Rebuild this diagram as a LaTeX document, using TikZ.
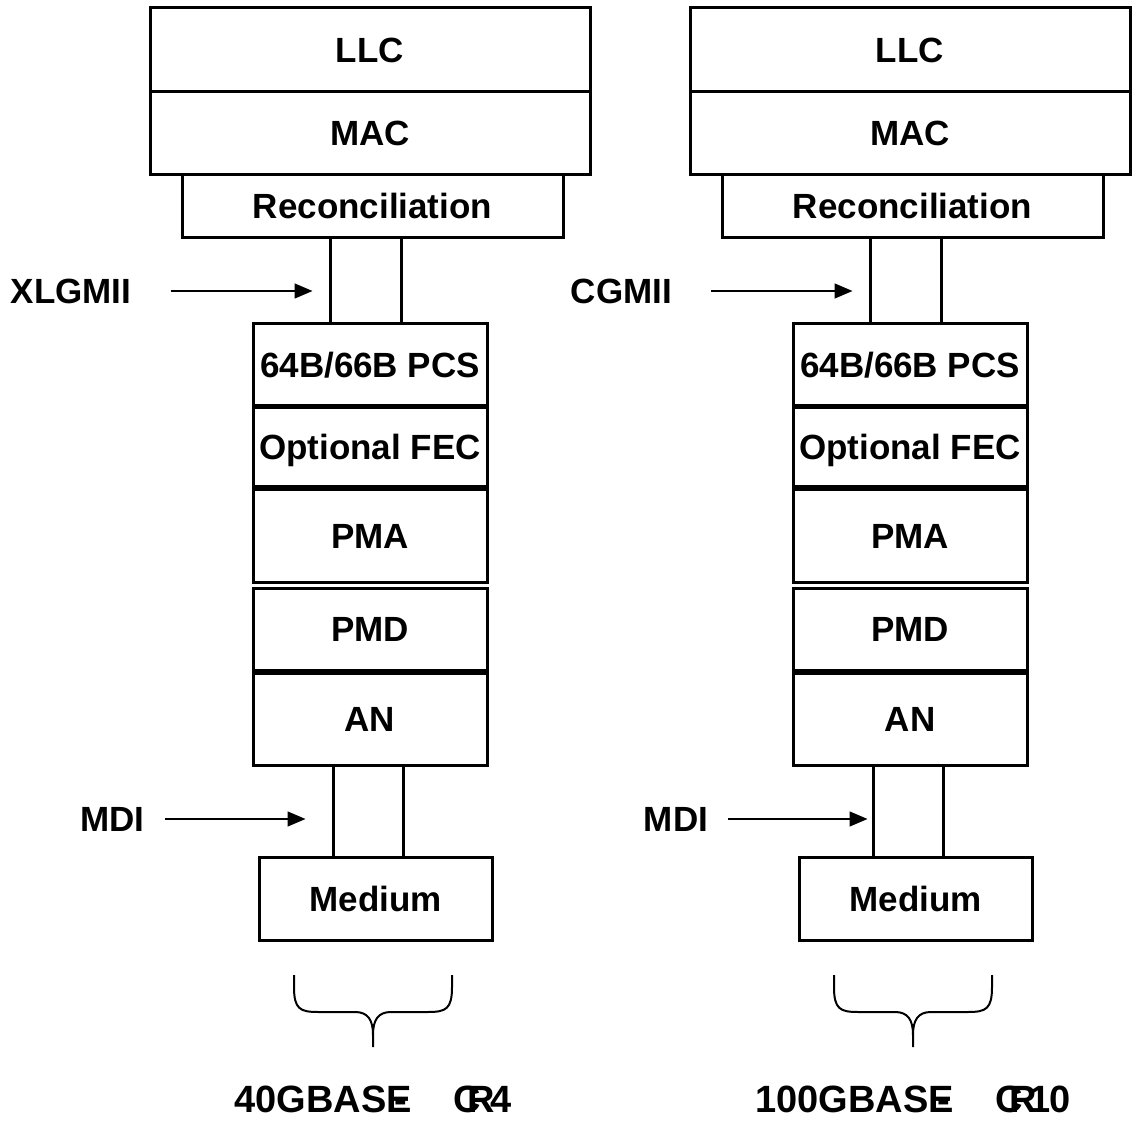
\documentclass[tikz,border=0pt]{standalone}
\usepackage{fontspec}
\setmainfont{Liberation Sans}
\usetikzlibrary{arrows.meta}

\begin{document}
\begin{tikzpicture}[x=0.5pt,y=-0.5pt,
    layer/.style 2 args={draw,line width=1.5pt,inner sep=0pt,
      minimum width=#1*0.5pt,minimum height=#2*0.5pt,
      font=\fontsize{17.5}{20}\selectfont\bfseries,text height=12.5pt,text depth=0pt},
    iface/.style={font=\fontsize{17.5}{20}\selectfont\bfseries,inner sep=0pt,
      text height=12.5pt,text depth=0pt},
    phy/.style={font=\fontsize{19}{22}\selectfont\bfseries,inner sep=0pt,anchor=base},
    >={Triangle[length=9pt,width=7.5pt]}]
  \useasboundingbox (0,0) rectangle (1141,1128);
  \foreach \c/\dx/\miix/\miit/\mdix/\mdis/\phyt in {%
      l/0/71/XLGMII/112.5/13pt/{40GBASE\kern-.45em-\hspace{1.2em}C\kern-.35em R\kern-.12em 4},%
      r/540/621.5/CGMII/676/2pt/{100GBASE\kern-.45em-\hspace{1.2em}C\kern-.35em R\kern-.2em 1\kern-.03em 0}}{
    \node[layer={440}{84}] (\c-llc) at (370+\dx,50) {LLC};
    \node[layer={440}{83}] (\c-mac) at (370+\dx,133.5) {MAC};
    \node[layer={381}{63}] (\c-rec) at (372.5+\dx,206.5) {Reconciliation};
    \node[layer={71}{86}] (\c-mii) at (365.5+\dx,281) {};
    \node[layer={234}{82}] (\c-pcs) at (370+\dx,365) {64B/66B PCS};
    \node[layer={234}{79}] (\c-fec) at (370+\dx,447.5) {Optional FEC};
    \node[layer={234}{92}] (\c-pma) at (370+\dx,536) {PMA};
    \node[layer={234}{82}] (\c-pmd) at (370+\dx,629) {PMD};
    \node[layer={234}{92}] (\c-an) at (370+\dx,719) {AN};
    \node[layer={70}{92}] (\c-mdi) at (368+\dx,811) {};
    \node[layer={233}{83}] (\c-med) at (375.5+\dx,898.5) {Medium};
    \node[iface] (\c-miil) at (\miix,291) {\miit};
    \node[iface] (\c-mdil) at (\mdix,819) {MDI};
    \draw[->,line width=.75pt,shorten <=19.5pt,shorten >=8pt]
      (\c-miil.east) -- (\c-miil.east -| \c-mii.west);
    \draw[->,line width=.75pt,shorten <=10pt,shorten >=\mdis]
      (\c-mdil.east) -- (\c-mdil.east -| \c-mdi.west);
    \draw[line width=1pt]
      (294+\dx,975) -- ++(0,12) .. controls +(0,22) and +(-18,0) .. ++(24,25)
      -- ++(37,0) .. controls +(13,0) and +(0,-15) .. ++(18,23) -- ++(0,12)
      (452+\dx,975) -- ++(0,12) .. controls +(0,22) and +(18,0) .. ++(-24,25)
      -- ++(-37,0) .. controls +(-13,0) and +(0,-15) .. ++(-18,23);
    \node[phy] (\c-phy) at (373+\dx,1112) {\phyt};
  }
\end{tikzpicture}
\end{document}
